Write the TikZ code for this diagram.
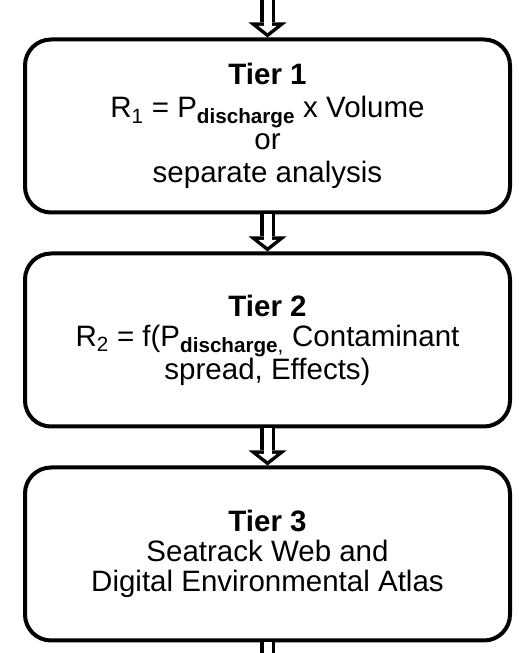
\documentclass[tikz,border=0pt]{standalone}
\usepackage{fontspec}
\setmainfont{Liberation Sans}
\usepackage{tikz}
\usetikzlibrary{arrows.meta, positioning}

\begin{document}
\begin{tikzpicture}[
  x=1pt, y=1pt,
  tier/.style={draw, line width=4pt, rounded corners=26pt, align=center,
               minimum width=485pt, minimum height=173pt, inner sep=0pt,
               font=\fontsize{29.5}{30}\selectfont},
  hollow/.style={line width=15pt, -{Triangle[width=38pt, length=15pt, line width=0pt]},
                 postaction={draw=white, line width=8pt, shorten >=4.5pt,
                             -{Triangle[width=18pt, length=7pt, line width=0pt]}}},
  stub/.style={line width=15pt, postaction={draw=white, line width=8pt}},
  node distance=37pt,
]
\useasboundingbox (0,0) rectangle (519,653);
\node[tier, font=\fontsize{29.5}{32.5}\selectfont] (tier1) at (267.5,527) {\textbf{Tier 1}\\R\textsubscript{1} = P\textsubscript{\textbf{discharge}} x Volume\\or\\separate analysis};
\node[tier, below=of tier1] (tier2) {\textbf{Tier 2}\\R\textsubscript{2} = f(P\textsubscript{\textbf{discharge},} Contaminant\\spread, Effects)};
\node[tier, below=of tier2] (tier3) {\textbf{Tier 3}\\Seatrack Web and\\Digital Environmental Atlas};
\coordinate[above=40pt of tier1] (top);
\coordinate[below=14pt of tier3] (bottom);
\draw[hollow] (top) -- (tier1);
\draw[hollow] (tier1) -- (tier2);
\draw[hollow] (tier2) -- (tier3);
\draw[stub] (tier3) -- (bottom);
\end{tikzpicture}
\end{document}
